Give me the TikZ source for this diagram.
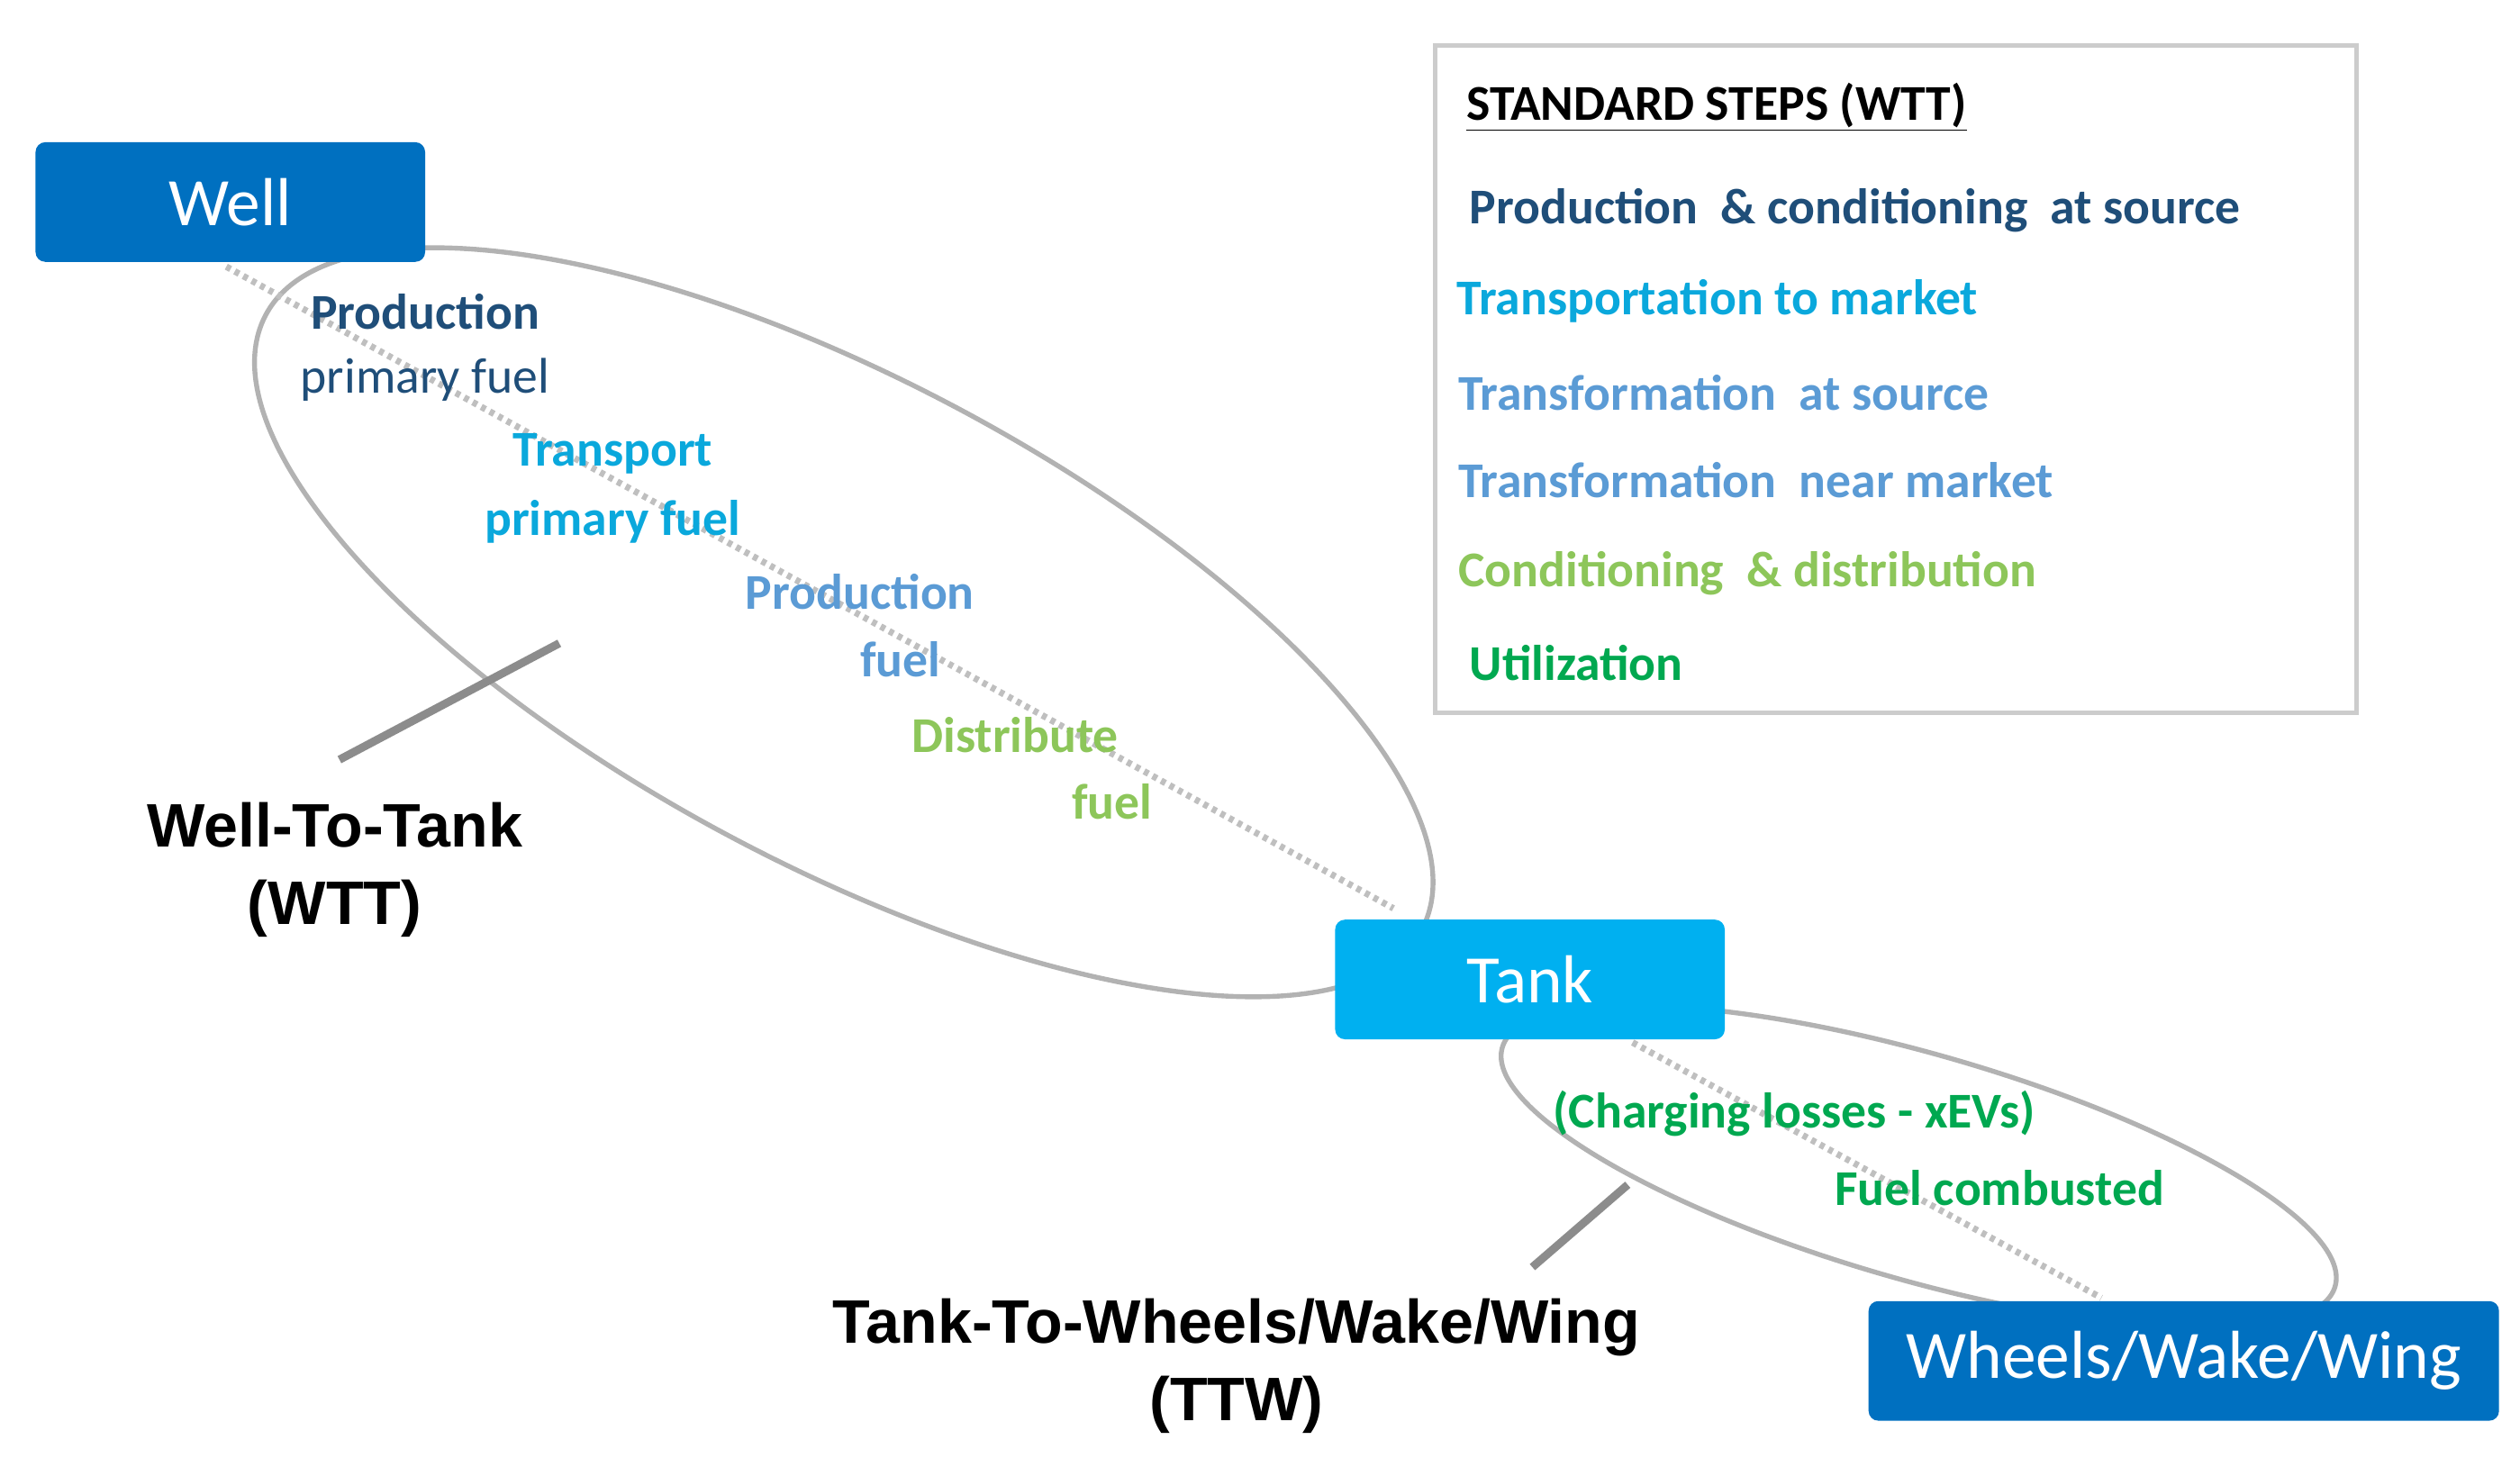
\documentclass[tikz,border=0pt]{standalone}
\usepackage{fontspec}
\setmainfont{Carlito}
\newfontfamily\arialf{Liberation Sans}
\begin{document}
\begin{tikzpicture}[x=1pt,y=-1pt,
 box/.style={rounded corners=6pt,text=white,font=\fontsize{42}{46}\selectfont,inner sep=0},
 ell/.style={draw=black!30,line width=3pt},
 dots/.style={draw=black!25,line width=4pt,dash pattern=on 3pt off 3pt},
 lead/.style={draw=black!45,line width=5pt},
 lbl/.style={font=\fontsize{31}{34}\selectfont\bfseries,align=center,inner sep=0},
 big/.style={font=\arialf\fontsize{38}{48}\selectfont\bfseries,align=center,inner sep=0},
 leg/.style={font=\fontsize{31}{32}\selectfont\bfseries,anchor=west,inner sep=0}]
\definecolor{navy}{HTML}{1F4E79}
\definecolor{cyan2}{HTML}{0AA8DC}
\definecolor{blu}{HTML}{5B9BD5}
\definecolor{lgrn}{HTML}{8DC65A}
\definecolor{grn}{HTML}{00A850}
\definecolor{dblue}{HTML}{0070C0}
\definecolor{lblue}{HTML}{00B0F0}
\useasboundingbox (0,0) rectangle (1559,902);
% ellipses
\draw[ell,rotate around={-28:(522,385)}] (522,385) ellipse [x radius=405, y radius=150];
\draw[ell,rotate around={-16:(1187,722)}] (1187,722) ellipse [x radius=268, y radius=70];
% dotted lines
\coordinate (d1) at (140,165); \coordinate (d2) at (862,562);
\coordinate (d3) at (1010,645); \coordinate (d4) at (1300,803);
\draw[dots] (d1) -- (d2);
\draw[dots] (d3) -- (d4);
% boxes
\node[box,fill=dblue,minimum width=241,minimum height=74] (well) at (142.5,125) {Well};
\node[box,fill=lblue,minimum width=241,minimum height=74] (tank) at (946.5,606) {Tank};
\node[box,fill=dblue,minimum width=390,minimum height=74] (wheels) at (1351,842) {Wheels/Wake/Wing};
% leaders
\coordinate (l1) at (210,470); \coordinate (l2) at (346,398);
\coordinate (l3) at (948,784); \coordinate (l4) at (1007,733);
\draw[lead] (l1) -- (l2);
\draw[lead] (l3) -- (l4);
% step labels
\node[lbl,text=navy] (t1) at (263,193) {Production};
\node[lbl,text=navy,font=\fontsize{31}{34}\selectfont] (t2) at (263,235) {primary fuel};
\node[lbl,text=cyan2] (t3) at (379,281) {Transport};
\node[lbl,text=cyan2] (t4) at (379,323) {primary fuel};
\node[lbl,text=blu] (t5) at (532,366) {Production};
\node[lbl,text=blu] (t6) at (557,408) {fuel};
\node[lbl,text=lgrn] (t7) at (628,455) {Distribute};
\node[lbl,text=lgrn] (t8) at (688,496) {fuel};
\node[lbl,text=grn] (t9) at (1110,689) {(Charging losses - xEVs)};
\node[lbl,text=grn] (t10) at (1237,735) {Fuel combusted};
% big labels
\node[big] (wtt) at (207,538) {Well-To-Tank\\(WTT)};
\node[big] (ttw) at (765,845) {Tank-To-Wheels/Wake/Wing\\(TTW)};
% legend
\node[draw=black!20,line width=3pt,minimum width=570,minimum height=413,inner sep=0] (legend) at (1173,234.5) {};
\node[leg] (h) at (907,66) {\underline{STANDARD STEPS (WTT)}};
\node[leg,text=navy] (s1) at (909,130) {Production \ \& conditioning \ at source};
\node[leg,text=cyan2] (s2) at (901,186) {Transportation to market};
\node[leg,text=blu] (s3) at (902,243) {Transformation \ at source};
\node[leg,text=blu] (s4) at (902,297) {Transformation \ near market};
\node[leg,text=lgrn] (s5) at (902,355) {Conditioning \ \& distribution};
\node[leg,text=grn] (s6) at (909,410) {Utilization};
\end{tikzpicture}
\end{document}
